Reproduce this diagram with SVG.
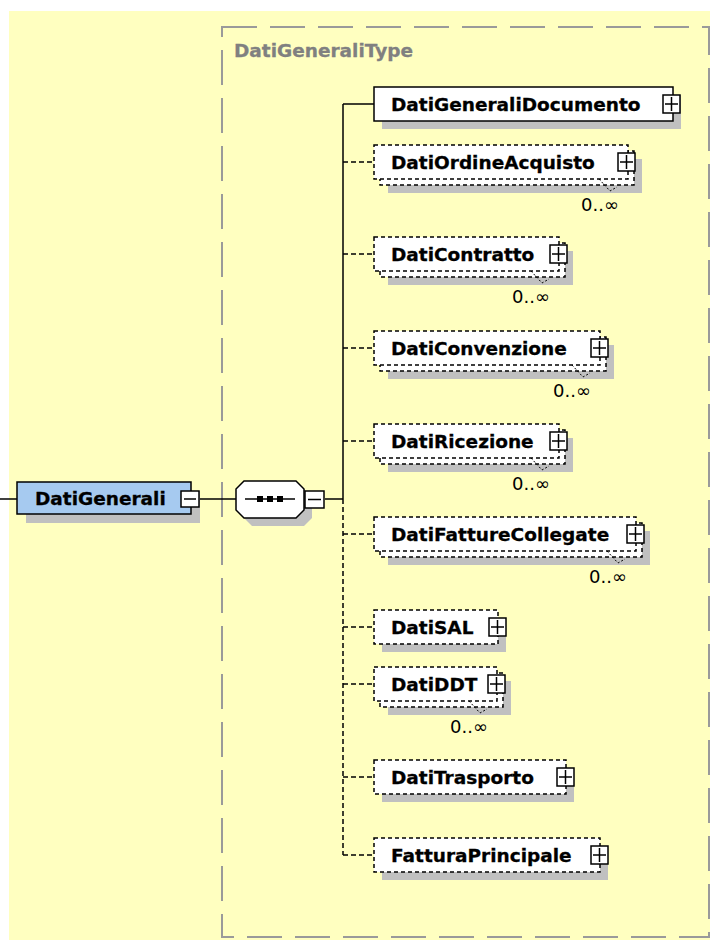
<svg xmlns="http://www.w3.org/2000/svg" width="710" height="940" viewBox="0 0 710 940">
<style>
.bg{fill:#FFFFC0}
.grp{stroke:#9A9A9A;stroke-width:2;fill:none;stroke-dasharray:35 13}
.title{font-family:"DejaVu Sans",Verdana,sans-serif;font-weight:bold;font-size:18.5px;fill:#808080;stroke:#808080;stroke-width:0.3}
.lbl{font-family:"DejaVu Sans",Verdana,sans-serif;font-weight:bold;font-size:18.5px;fill:#000;stroke:#000;stroke-width:0.3}
.card{font-family:"DejaVu Sans",Verdana,sans-serif;font-size:18px;fill:#000;text-anchor:end}
.shadow{fill:#C0C0C0}
.box{fill:#fff;stroke:#000;stroke-width:1.5}
.dbox{fill:#fff;stroke:#000;stroke-width:1.5;stroke-dasharray:4 3}
.main{fill:#A6CAF0;stroke:#000;stroke-width:1.5}
.pm{fill:#fff;stroke:#000;stroke-width:1.5}
.sym{stroke:#000;stroke-width:1.5;fill:none}
.line{stroke:#000;stroke-width:1.5;fill:none}
.dline{stroke:#000;stroke-width:1.5;fill:none;stroke-dasharray:5 3}
.tick{stroke:#000;stroke-width:1;fill:none;stroke-dasharray:2 2}
</style>
<rect x="0" y="0" width="710" height="940" fill="#fff"/>
<rect class="bg" x="9" y="11" width="701" height="929"/>
<g id="group-box">
<rect class="grp" x="222" y="27" width="487" height="910"/>
<text class="title" x="234" y="57">DatiGeneraliType</text>
</g>
<g id="connectors">
<line class="line" x1="0" y1="499" x2="17" y2="499"/>
<line class="line" x1="200" y1="499" x2="236" y2="499"/>
<line class="line" x1="325" y1="499" x2="343" y2="499"/>
<line class="line" x1="343" y1="104" x2="343" y2="499"/>
<line class="dline" x1="343" y1="499" x2="343" y2="855"/>
<line class="line" x1="343" y1="104" x2="374" y2="104"/>
<line class="dline" x1="343" y1="162" x2="373" y2="162"/>
<line class="dline" x1="343" y1="254" x2="373" y2="254"/>
<line class="dline" x1="343" y1="348" x2="373" y2="348"/>
<line class="dline" x1="343" y1="441" x2="373" y2="441"/>
<line class="dline" x1="343" y1="534" x2="373" y2="534"/>
<line class="dline" x1="343" y1="627" x2="373" y2="627"/>
<line class="dline" x1="343" y1="684" x2="373" y2="684"/>
<line class="dline" x1="343" y1="777" x2="373" y2="777"/>
<line class="dline" x1="343" y1="855" x2="373" y2="855"/>
</g>
<g id="DatiGenerali">
<rect class="shadow" x="26" y="491" width="174" height="32"/>
<rect class="main" x="17" y="482" width="174" height="32"/>
<text class="lbl" x="35" y="505">DatiGenerali</text>
<rect class="pm" x="181" y="491" width="18" height="16"/>
<line class="sym" x1="184" y1="499" x2="196" y2="499"/>
</g>
<g id="sequence">
<polygon class="shadow" points="252,489 304,489 312,497 312,518 304,526 252,526 244,518 244,497"/>
<polygon class="box" points="244,481 296,481 304,489 304,510 296,518 244,518 236,510 236,489"/>
<line class="sym" x1="245" y1="499" x2="295" y2="499"/>
<rect x="257" y="496" width="6" height="6" fill="#000"/>
<rect x="267" y="496" width="6" height="6" fill="#000"/>
<rect x="277" y="496" width="6" height="6" fill="#000"/>
<rect class="pm" x="305" y="491" width="19" height="17"/>
<line class="sym" x1="308" y1="499.5" x2="321" y2="499.5"/>
</g>
<g id="DatiGeneraliDocumento">
<rect class="shadow" x="382" y="95" width="299" height="34"/>
<rect class="box" x="374" y="87" width="299" height="34"/>
<text class="lbl" x="391" y="110.5">DatiGeneraliDocumento</text>
<rect class="pm" x="663" y="95" width="17" height="18"/>
<path class="sym" d="M665 104h13M671.5 97v14"/>
</g>
<g id="DatiOrdineAcquisto">
<rect class="shadow" x="388" y="159" width="254" height="34"/>
<rect class="dbox" x="380" y="151" width="254" height="34"/>
<rect class="dbox" x="374" y="145" width="254" height="34"/>
<text class="lbl" x="391" y="168.5">DatiOrdineAcquisto</text>
<rect class="pm" x="618" y="153" width="17" height="18"/>
<path class="sym" d="M620 162h13M626.5 155v14"/>
<polyline class="tick" points="599,179 610,191 617,187"/>
<text class="card" x="619" y="211">0..∞</text>
</g>
<g id="DatiContratto">
<rect class="shadow" x="388" y="251" width="185" height="34"/>
<rect class="dbox" x="380" y="243" width="185" height="34"/>
<rect class="dbox" x="374" y="237" width="185" height="34"/>
<text class="lbl" x="391" y="260.5">DatiContratto</text>
<rect class="pm" x="550" y="245" width="17" height="18"/>
<path class="sym" d="M552 254h13M558.5 247v14"/>
<polyline class="tick" points="531,271 542,283 549,279"/>
<text class="card" x="550" y="303">0..∞</text>
</g>
<g id="DatiConvenzione">
<rect class="shadow" x="388" y="345" width="226" height="34"/>
<rect class="dbox" x="380" y="337" width="226" height="34"/>
<rect class="dbox" x="374" y="331" width="226" height="34"/>
<text class="lbl" x="391" y="354.5">DatiConvenzione</text>
<rect class="pm" x="591" y="339" width="17" height="18"/>
<path class="sym" d="M593 348h13M599.5 341v14"/>
<polyline class="tick" points="572,365 583,377 590,373"/>
<text class="card" x="591" y="397">0..∞</text>
</g>
<g id="DatiRicezione">
<rect class="shadow" x="388" y="438" width="185" height="34"/>
<rect class="dbox" x="380" y="430" width="185" height="34"/>
<rect class="dbox" x="374" y="424" width="185" height="34"/>
<text class="lbl" x="391" y="447.5">DatiRicezione</text>
<rect class="pm" x="550" y="432" width="17" height="18"/>
<path class="sym" d="M552 441h13M558.5 434v14"/>
<polyline class="tick" points="531,458 542,470 549,466"/>
<text class="card" x="550" y="490">0..∞</text>
</g>
<g id="DatiFattureCollegate">
<rect class="shadow" x="388" y="531" width="262" height="34"/>
<rect class="dbox" x="380" y="523" width="262" height="34"/>
<rect class="dbox" x="374" y="517" width="262" height="34"/>
<text class="lbl" x="391" y="540.5">DatiFattureCollegate</text>
<rect class="pm" x="627" y="525" width="17" height="18"/>
<path class="sym" d="M629 534h13M635.5 527v14"/>
<polyline class="tick" points="607,551 618,563 625,559"/>
<text class="card" x="627" y="583">0..∞</text>
</g>
<g id="DatiSAL">
<rect class="shadow" x="382" y="618" width="124" height="34"/>
<rect class="dbox" x="374" y="610" width="124" height="34"/>
<text class="lbl" x="391" y="633.5">DatiSAL</text>
<rect class="pm" x="489" y="618" width="17" height="18"/>
<path class="sym" d="M491 627h13M497.5 620v14"/>
</g>
<g id="DatiDDT">
<rect class="shadow" x="388" y="681" width="123" height="34"/>
<rect class="dbox" x="380" y="673" width="123" height="34"/>
<rect class="dbox" x="374" y="667" width="123" height="34"/>
<text class="lbl" x="391" y="690.5">DatiDDT</text>
<rect class="pm" x="488" y="675" width="17" height="18"/>
<path class="sym" d="M490 684h13M496.5 677v14"/>
<polyline class="tick" points="469,701 480,713 487,709"/>
<text class="card" x="488" y="733">0..∞</text>
</g>
<g id="DatiTrasporto">
<rect class="shadow" x="382" y="768" width="192" height="34"/>
<rect class="dbox" x="374" y="760" width="192" height="34"/>
<text class="lbl" x="391" y="783.5">DatiTrasporto</text>
<rect class="pm" x="557" y="768" width="17" height="18"/>
<path class="sym" d="M559 777h13M565.5 770v14"/>
</g>
<g id="FatturaPrincipale">
<rect class="shadow" x="382" y="846" width="226" height="34"/>
<rect class="dbox" x="374" y="838" width="226" height="34"/>
<text class="lbl" x="391" y="861.5">FatturaPrincipale</text>
<rect class="pm" x="591" y="846" width="17" height="18"/>
<path class="sym" d="M593 855h13M599.5 848v14"/>
</g>
</svg>
